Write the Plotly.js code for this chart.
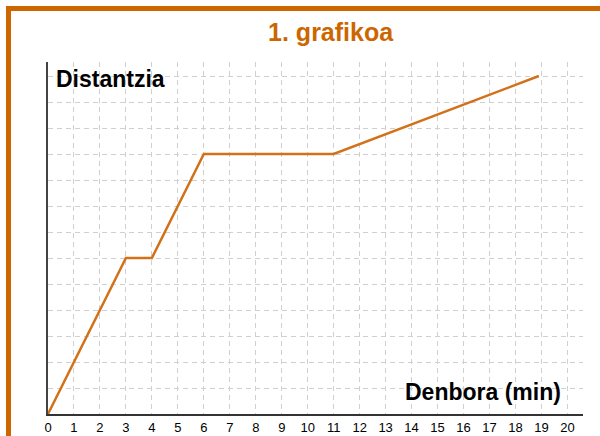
<!DOCTYPE html>
<html>
<head>
<meta charset="utf-8">
<script src="https://cdn.plot.ly/plotly-3.0.1.min.js"></script>
<style>
  html, body { margin: 0; padding: 0; background: #ffffff; }
  #wrap { position: relative; width: 600px; height: 436px; overflow: hidden; }
  #frame { position: absolute; left: 6px; top: 6px; width: 620px; height: 450px;
           border-top: 5px solid #cc6600; border-left: 5px solid #cc6600; box-sizing: border-box; }
  #chart { position: absolute; left: 0; top: 0; width: 600px; height: 436px; }
</style>
</head>
<body>
<div id="wrap">
  <div id="frame"></div>
  <div id="chart"></div>
</div>
<script>
// Data
const timeMin = [0, 3, 4, 6, 11, 18.9];
const distance = [0, 6, 6, 10, 10, 13];
const xTickValues = [0,1,2,3,4,5,6,7,8,9,10,11,12,13,14,15,16,17,18,19,20];
const xTickLabels = ["0","1","2","3","4","5","6","7","8","9","10","11","12","13","14","15","16","17","18","19","20"];
const chartTitle = "1. grafikoa";
const yLabel = "Distantzia";
const xLabel = "Denbora (min)";

const trace = {
  x: timeMin,
  y: distance,
  type: "scatter",
  mode: "lines",
  line: { color: "#d2711a", width: 2.5 },
  hoverinfo: "skip"
};

const layout = {
  width: 600,
  height: 436,
  margin: { l: 48, r: 17, t: 62, b: 22, pad: 0 },
  paper_bgcolor: "rgba(0,0,0,0)",
  plot_bgcolor: "rgba(0,0,0,0)",
  showlegend: false,
  font: { family: "Liberation Sans, Arial, sans-serif", color: "#000000" },
  title: {
    text: "<b>" + chartTitle + "</b>",
    font: { family: "Liberation Sans, Arial, sans-serif", size: 25, color: "#cc6600" },
    x: 0.551, xanchor: "center",
    y: 0.926, yanchor: "middle", yref: "container"
  },
  xaxis: {
    range: [0, 20.6],
    tickmode: "array",
    tickvals: xTickValues,
    ticktext: xTickLabels,
    ticks: "",
    tickfont: { size: 13, color: "#000000" },
    showgrid: true,
    gridcolor: "#d0d0d0",
    gridwidth: 1,
    griddash: "5px,4px",
    zeroline: false,
    showline: true,
    linecolor: "#333333",
    linewidth: 2,
    fixedrange: true
  },
  yaxis: {
    range: [0, 13.54],
    tickmode: "linear",
    tick0: 0,
    dtick: 1,
    showticklabels: false,
    ticks: "",
    showgrid: true,
    gridcolor: "#d0d0d0",
    gridwidth: 1,
    griddash: "5px,4px",
    zeroline: false,
    showline: true,
    linecolor: "#444444",
    linewidth: 2,
    fixedrange: true
  },
  annotations: [
    {
      text: "<b>" + yLabel + "</b>",
      xref: "paper", yref: "paper",
      x: 0.011, y: 0.953,
      xanchor: "left", yanchor: "middle",
      showarrow: false,
      font: { family: "Liberation Sans, Arial, sans-serif", size: 23, color: "#000000" }
    },
    {
      text: "<b>" + xLabel + "</b>",
      xref: "paper", yref: "paper",
      x: 0.9626, y: 0.063,
      xanchor: "right", yanchor: "middle",
      showarrow: false,
      font: { family: "Liberation Sans, Arial, sans-serif", size: 23, color: "#000000" }
    }
  ]
};

Plotly.newPlot("chart", [trace], layout, { displayModeBar: false, staticPlot: true });
</script>
</body>
</html>
